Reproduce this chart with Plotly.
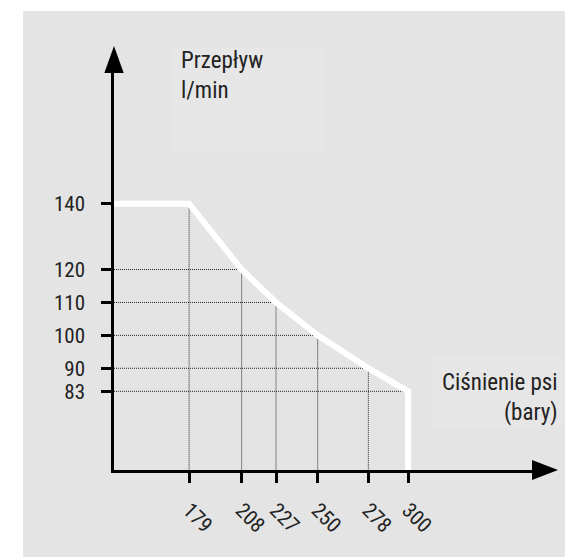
import plotly.graph_objects as go

# ---- data ----
pressure = [179, 208, 227, 250, 278, 300]      # Ciśnienie psi (bary)
flow = [140, 120, 110, 100, 90, 83]            # Przepływ l/min
x_ticks = [179, 208, 227, 250, 278, 300]
y_ticks = [140, 120, 110, 100, 90, 83]

X_MIN, X_MAX = 137.5, 368.4
Y_MIN, Y_MAX = 59.1, 179.7

FONT = "Roboto Condensed, Liberation Sans Narrow, Roboto, sans-serif"
BG = "#e4e4e4"
OFF = 8  # page body margin

fig = go.Figure()

# dotted guide lines
hx, hy = [], []
for p, f in zip(pressure[1:], flow[1:]):
    hx += [X_MIN, p, None]
    hy += [f, f, None]
vx, vy = [], []
for p, f in zip(pressure[:-1], flow[:-1]):
    vx += [p, p, None]
    vy += [f, Y_MIN, None]

fig.add_trace(go.Scatter(x=hx, y=hy, mode="lines", hoverinfo="skip",
                         line=dict(color="#222222", width=1, dash="1px,1px"),
                         showlegend=False))
fig.add_trace(go.Scatter(x=vx, y=vy, mode="lines", hoverinfo="skip",
                         line=dict(color="#222222", width=1, dash="1px,1px"),
                         showlegend=False))

# white characteristic curve
cx = [X_MIN] + pressure + [pressure[-1]]
cy = [flow[0]] + flow + [Y_MIN]
fig.add_trace(go.Scatter(x=cx, y=cy, mode="lines", hoverinfo="skip",
                         line=dict(color="white", width=6),
                         showlegend=False))

W, H = 573 - OFF, 557 - OFF
L, T = 114 - OFF, 73 - OFF
R = W - (532 - OFF)
B = H - (470 - OFF)
pw, ph = W - L - R, H - T - B


def px_x(px):
    return (px - OFF - L) / pw


def px_y(py):
    return (H - B - (py - OFF)) / ph


shapes = [
    # grey background panel
    dict(type="rect", xref="paper", yref="paper",
         x0=px_x(23), x1=px_x(590), y0=px_y(590), y1=px_y(11),
         fillcolor=BG, line=dict(width=0), layer="below"),
    # lighter boxes behind labels
    dict(type="rect", xref="paper", yref="paper",
         x0=px_x(172), x1=px_x(325), y0=px_y(152), y1=px_y(47),
         fillcolor="#e6e6e6", line=dict(width=0), layer="below"),
    dict(type="rect", xref="paper", yref="paper",
         x0=px_x(433), x1=px_x(590), y0=px_y(427), y1=px_y(355),
         fillcolor="#e6e6e6", line=dict(width=0), layer="below"),
    # arrowheads
    dict(type="path", xref="paper", yref="paper", xsizemode="pixel", ysizemode="pixel",
         xanchor=1, yanchor=0, path="M0,10 L26,0 L0,-10 Z",
         fillcolor="black", line=dict(width=0)),
    dict(type="path", xref="paper", yref="paper", xsizemode="pixel", ysizemode="pixel",
         xanchor=0, yanchor=1, path="M-9.7,0 L9.7,0 L0,27 Z",
         fillcolor="black", line=dict(width=0)),
]

annotations = [
    dict(text="Przepływ<br>l/min", xref="paper", yref="paper",
         x=px_x(179), y=px_y(75), xanchor="left", yanchor="middle",
         align="left", showarrow=False,
         font=dict(family=FONT, size=23, color="#222222")),
    dict(text="Ciśnienie psi<br>(bary)", xref="paper", yref="paper",
         x=px_x(560), y=px_y(397), xanchor="right", yanchor="middle",
         align="right", showarrow=False,
         font=dict(family=FONT, size=23, color="#222222")),
]

fig.update_layout(
    width=W, height=H,
    margin=dict(l=L, r=R, t=T, b=B, pad=0),
    paper_bgcolor="white", plot_bgcolor="rgba(0,0,0,0)",
    shapes=shapes, annotations=annotations,
    xaxis=dict(range=[X_MIN, X_MAX], showgrid=False, zeroline=False,
               showline=True, linecolor="black", linewidth=2.5,
               ticks="outside", ticklen=10, tickwidth=2.5, tickcolor="black",
               tickvals=x_ticks, ticktext=[str(v) for v in x_ticks],
               tickangle=45, ticklabelstandoff=7, ticklabelshift=0,
               tickfont=dict(family=FONT, size=21, color="#222222"),
               automargin=False, fixedrange=True),
    yaxis=dict(range=[Y_MIN, Y_MAX], showgrid=False, zeroline=False,
               showline=True, linecolor="black", linewidth=2.5,
               ticks="outside", ticklen=10, tickwidth=2.5, tickcolor="black",
               tickvals=y_ticks, ticktext=[str(v) for v in y_ticks],
               ticklabelstandoff=12,
               tickfont=dict(family=FONT, size=21, color="#222222"),
               automargin=False, fixedrange=True),
)

fig.write_html("out.html")
